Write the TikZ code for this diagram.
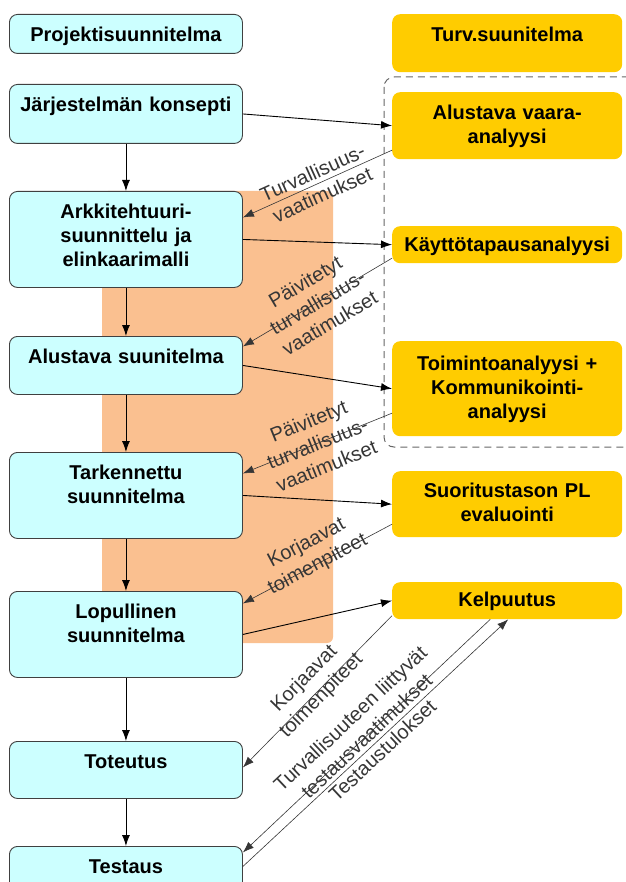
\documentclass[tikz,border=0pt]{standalone}
\usepackage{fontspec}
\setmainfont{Liberation Sans}
\usetikzlibrary{arrows.meta}
\definecolor{phasecyan}{HTML}{CCFFFF}
\definecolor{safetygold}{HTML}{FFCC00}
\definecolor{peach}{HTML}{FAC090}
\definecolor{edgegray}{HTML}{404040}
\definecolor{notegray}{HTML}{363636}

\begin{document}
\begin{tikzpicture}[x=1pt,y=-1pt,
  phase/.style={draw=edgegray,line width=0.9pt,fill=phasecyan,rounded corners=8pt,anchor=north west,
    text width=225pt,inner xsep=4pt,inner ysep=0pt,align=center,text height=27pt,
    font=\fontsize{20}{24}\selectfont\bfseries},
  safety/.style={fill=safetygold,rounded corners=8pt,anchor=north west,
    text width=222pt,inner xsep=4pt,inner ysep=0pt,align=center,text height=27pt,
    font=\fontsize{20}{24}\selectfont\bfseries},
  flow/.style={line width=0.9pt,-{Latex[length=11pt,width=8pt]}},
  feedback/.style={draw=notegray,line width=0.6pt,-{Latex[length=11pt,width=8pt]}},
  note/.style={midway,sloped,text=notegray,align=center,font=\fontsize{20}{24}\selectfont}]
  \path[use as bounding box] (0,0) rectangle (625,882);
  \fill[peach,rounded corners=6pt] (102,191) rectangle (333,643);
  \draw[edgegray!80,dash pattern=on 7pt off 5pt,line width=1pt,rounded corners=10pt] (384,77) rectangle (640,447);

  \node[phase,text depth=12pt] (projekti) at (9,14) {Projektisuunnitelma};
  \node[phase,text depth=32pt] (konsepti) at (9,84) {Järjestelmän konsepti};
  \node[phase,text depth=69pt] (arkki) at (9,191) {Arkkitehtuuri-\\suunnittelu ja\\elinkaarimalli};
  \node[phase,text depth=31pt] (alustava) at (9,336) {Alustava suunitelma};
  \node[phase,text depth=59pt] (tarkennettu) at (9,452) {Tarkennettu\\suunnitelma};
  \node[phase,text depth=59pt] (lopullinen) at (9,591) {Lopullinen\\suunnitelma};
  \node[phase,text depth=30pt] (toteutus) at (9,741) {Toteutus};
  \node[phase,text depth=32pt] (testaus) at (9,846) {Testaus};

  \node[safety,text depth=31pt] (turv) at (392,14) {Turv.suunitelma};
  \node[safety,text depth=40pt] (vaara) at (392,92) {Alustava vaara-\\analyysi};
  \node[safety,text height=25pt,text depth=12pt] (kaytto) at (392,226) {Käyttötapausanalyysi};
  \node[safety,text height=29pt,text depth=66pt] (toiminto) at (392,341) {Toimintoanalyysi +\\Kommunikointi-\\analyysi};
  \node[safety,text height=26pt,text depth=40pt] (suoritus) at (392,471) {Suoritustason PL\\evaluointi};
  \node[safety,text height=24pt,text depth=13pt] (kelpuutus) at (392,582) {Kelpuutus};

  \draw[flow] (konsepti) -- (arkki);
  \draw[flow] (arkki) -- (alustava);
  \draw[flow] (alustava) -- (tarkennettu);
  \draw[flow] (tarkennettu) -- (lopullinen);
  \draw[flow] (lopullinen) -- (toteutus);
  \draw[flow] (toteutus) -- (testaus);

  \draw[flow] (konsepti.east) -- (vaara.west);
  \draw[flow] (arkki.east) -- (kaytto.west);
  \draw[flow] (alustava.east) -- (toiminto.west);
  \draw[flow] (tarkennettu.east) -- (suoritus.west);
  \draw[flow] (lopullinen.east) -- (kelpuutus.west);

  \draw[feedback] ([yshift=-24.5pt]vaara.west) -- node[note] {Turvallisuus-\\vaatimukset} ([yshift=22pt]arkki.east);
  \draw[feedback] ([yshift=-13.5pt]kaytto.west) -- node[note] {Päivitetyt\\turvallisuus-\\vaatimukset} ([yshift=19pt]alustava.east);
  \draw[feedback] ([yshift=-24.5pt]toiminto.west) -- node[note] {Päivitetyt\\turvallisuus-\\vaatimukset} ([yshift=22pt]tarkennettu.east);
  \draw[feedback] ([yshift=-20pt]suoritus.west) -- node[note,yshift=11pt] {Korjaavat\\toimenpiteet} ([yshift=31pt]lopullinen.east);
  \draw[feedback] ([yshift=-15pt]kelpuutus.west) -- node[note,yshift=6pt] {Korjaavat\\toimenpiteet} ([yshift=2.5pt]toteutus.east);
  \draw[feedback] ([xshift=-17pt]kelpuutus.south) -- node[note,yshift=12pt] {Turvallisuuteen liittyvät\\testausvaatimukset} ([yshift=23.5pt]testaus.east);
  \draw[feedback] ([yshift=9.5pt]testaus.east) -- node[note,yshift=-10pt] {Testaustulokset} ([xshift=1pt]kelpuutus.south);
\end{tikzpicture}
\end{document}
